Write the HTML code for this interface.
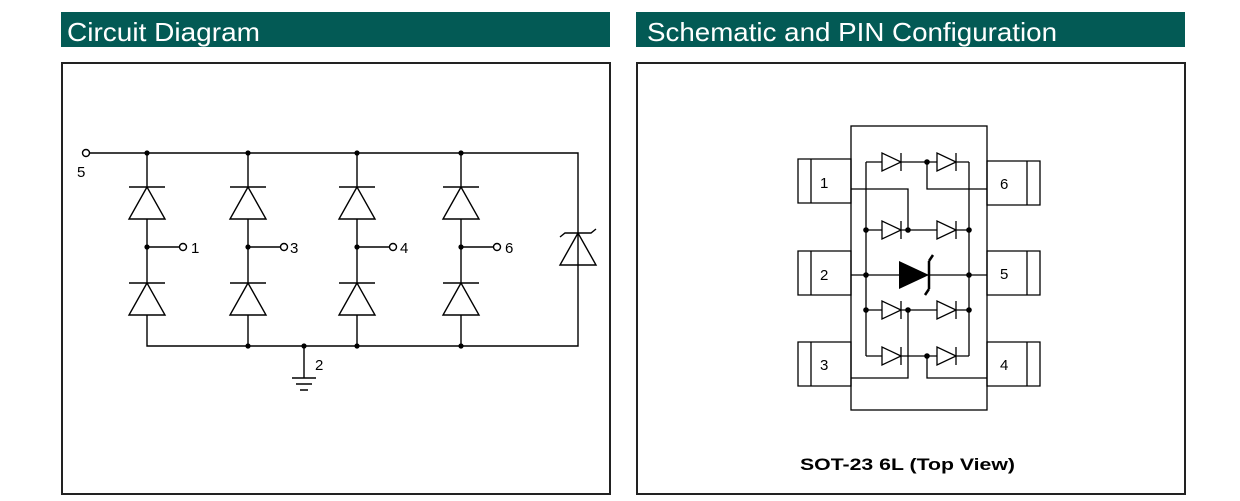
<!DOCTYPE html>
<html><head><style>
body{margin:0;width:1240px;height:501px;background:#fff;overflow:hidden}
svg{display:block}
</style></head><body>
<svg width="1240" height="501" xmlns="http://www.w3.org/2000/svg" font-family="Liberation Sans, Arial, sans-serif">
<rect x="61" y="12" width="549" height="35" fill="#035a55"/>
<rect x="636" y="12" width="549" height="35" fill="#035a55"/>
<text x="67" y="41" fill="#fff" font-size="26" textLength="193" lengthAdjust="spacingAndGlyphs">Circuit Diagram</text>
<text x="647" y="41" fill="#fff" font-size="26" textLength="410" lengthAdjust="spacingAndGlyphs">Schematic and PIN Configuration</text>
<rect x="62" y="63" width="548" height="431" fill="none" stroke="#222" stroke-width="2"/>
<rect x="637" y="63" width="548" height="431" fill="none" stroke="#222" stroke-width="2"/>
<g stroke="#000" stroke-width="1.4" fill="none">
<circle cx="86" cy="153" r="3.5"/>
<path d="M89.5 153H578V346H147V315 M147 153V187 M147 219V283 M248 153V187 M248 219V283 M248 315V346 M357 153V187 M357 219V283 M357 315V346 M461 153V187 M461 219V283 M461 315V346 M578 153V233 M578 265V346"/>
<path d="M147 247H179 M248 247H280 M357 247H389 M461 247H493"/>
<circle cx="183" cy="247" r="3.5"/><circle cx="284" cy="247" r="3.5"/><circle cx="393" cy="247" r="3.5"/><circle cx="497" cy="247" r="3.5"/>
<g id="d"><path d="M129 187H165 M147 187L129 219H165Z"/></g>
<use href="#d" y="96"/>
<use href="#d" x="101"/><use href="#d" x="101" y="96"/>
<use href="#d" x="210"/><use href="#d" x="210" y="96"/>
<use href="#d" x="314"/><use href="#d" x="314" y="96"/>
<path d="M560 237L565 233H591L596 229 M578 233L560 265H596Z"/>
<path d="M304 346V378 M292 378H316 M296 384H312 M300 390H308"/>
</g>
<g fill="#000">
<circle cx="147" cy="153" r="2.6"/><circle cx="248" cy="153" r="2.6"/><circle cx="357" cy="153" r="2.6"/><circle cx="461" cy="153" r="2.6"/>
<circle cx="147" cy="247" r="2.6"/><circle cx="248" cy="247" r="2.6"/><circle cx="357" cy="247" r="2.6"/><circle cx="461" cy="247" r="2.6"/>
<circle cx="248" cy="346" r="2.6"/><circle cx="304" cy="346" r="2.6"/><circle cx="357" cy="346" r="2.6"/><circle cx="461" cy="346" r="2.6"/>
</g>
<g font-size="15" fill="#000">
<text x="77" y="177">5</text><text x="191" y="253">1</text><text x="290" y="253">3</text><text x="400" y="253">4</text><text x="505" y="253">6</text><text x="315" y="370">2</text>
</g>
<g stroke="#000" stroke-width="1.3" fill="none">
<rect x="851" y="126" width="136" height="284"/>
<path d="M798 159H851V203H798Z M811 159V203 M798 251H851V295H798Z M811 251V295 M798 342H851V386H798Z M811 342V386"/>
<path d="M1040 161H987V205H1040Z M1027 161V205 M1040 251H987V295H1040Z M1027 251V295 M1040 342H987V386H1040Z M1027 342V386"/>
<path d="M866 162V356 M969 162V356 M866 162H882 M901 162H937 M956 162H969 M927 162V189H987 M851 189H908V230 M866 230H882 M901 230H937 M956 230H969 M851 275H987 M866 310H882 M901 310H937 M956 310H969 M866 356H882 M901 356H937 M956 356H969 M908 310V378H851 M927 356V378H987"/>
<g id="s"><path d="M882 153V171L901 162Z M901 153V171"/></g>
<use href="#s" x="55"/>
<use href="#s" y="68"/><use href="#s" x="55" y="68"/>
<use href="#s" y="148"/><use href="#s" x="55" y="148"/>
<use href="#s" y="194"/><use href="#s" x="55" y="194"/>
</g>
<path d="M899 261V289L929 275Z" fill="#000"/>
<path d="M929 261V289 M929 261L933 255 M929 289L925 295" stroke="#000" stroke-width="2.5" fill="none"/>
<g fill="#000">
<circle cx="927" cy="162" r="2.8"/><circle cx="866" cy="230" r="2.8"/><circle cx="908" cy="230" r="2.8"/><circle cx="969" cy="230" r="2.8"/>
<circle cx="866" cy="275" r="2.8"/><circle cx="969" cy="275" r="2.8"/>
<circle cx="866" cy="310" r="2.8"/><circle cx="908" cy="310" r="2.8"/><circle cx="969" cy="310" r="2.8"/><circle cx="927" cy="356" r="2.8"/>
</g>
<g font-size="15" fill="#000">
<text x="820" y="188">1</text><text x="820" y="280">2</text><text x="820" y="370">3</text>
<text x="1000" y="189">6</text><text x="1000" y="279">5</text><text x="1000" y="370">4</text>
</g>
<text x="800" y="470" font-size="17" font-weight="bold" fill="#000" textLength="215" lengthAdjust="spacingAndGlyphs">SOT-23  6L (Top View)</text>
</svg>
</body></html>
